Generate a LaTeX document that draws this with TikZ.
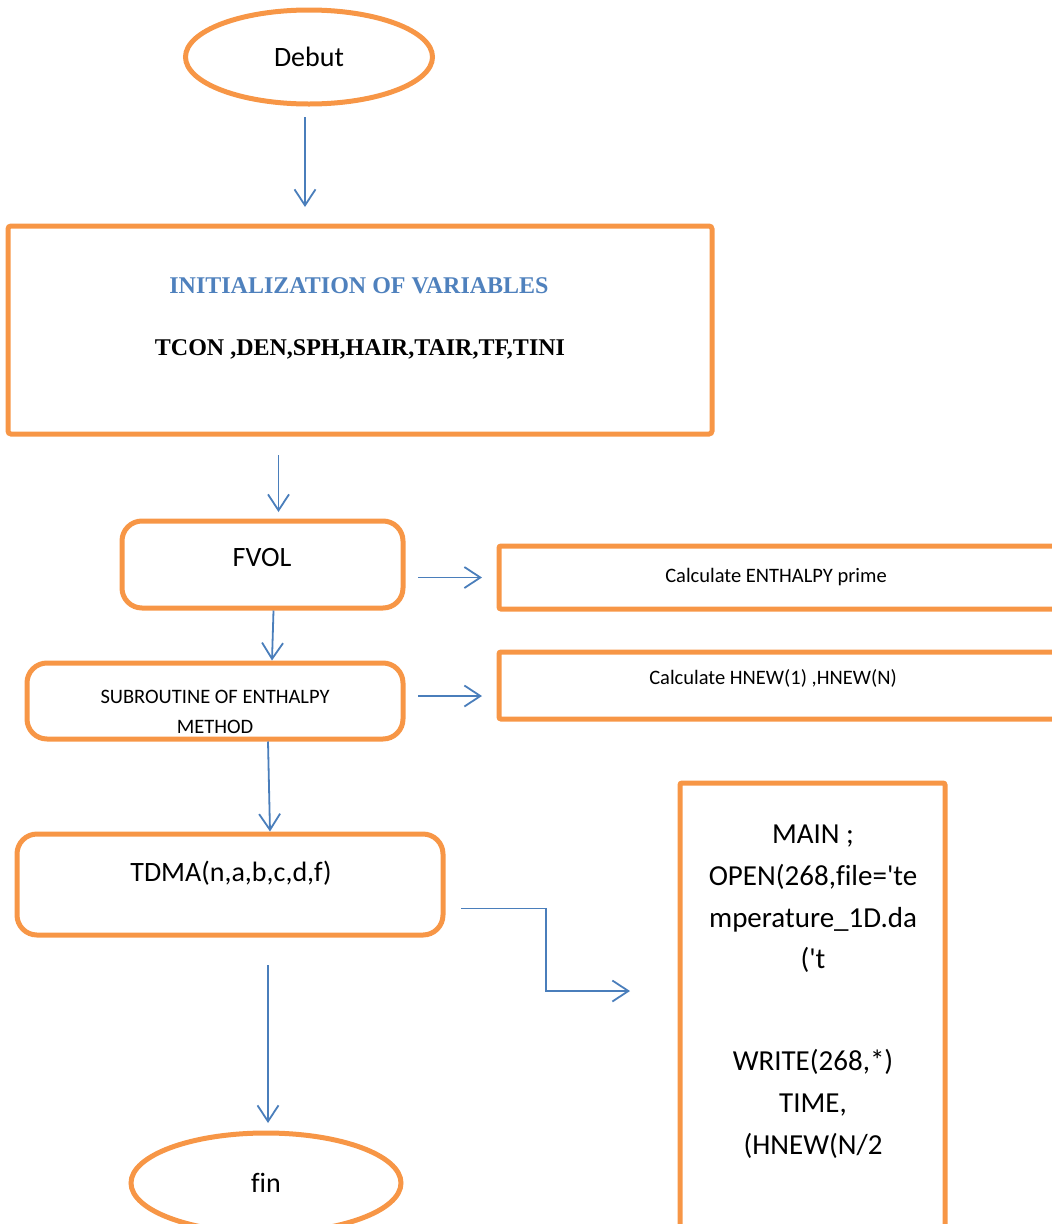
\documentclass[tikz,border=0pt]{standalone}
\usepackage{fontspec}
\setmainfont{Carlito}[Ligatures=NoCommon]
\newfontfamily\calib{Carlito}[Ligatures=NoCommon]
\newfontfamily\tnr{Liberation Serif}
\usetikzlibrary{arrows.meta,shapes.geometric,calc}
\definecolor{orng}{HTML}{F79646}
\definecolor{lblue}{HTML}{4A7EBB}
\definecolor{tblue}{HTML}{4F81BD}
\tikzset{
  obox/.style={draw=orng, line width=5, fill=none, inner sep=0},
  rbox/.style={obox, rectangle, rounded corners=20},
  sbox/.style={obox, rectangle, rounded corners=3},
  ell/.style={obox, ellipse},
  arr/.style={draw=lblue, line width=1.8, -{Straight Barb[length=16, width=21, line width=1.8]}},
  big/.style={font=\calib\fontsize{28}{41.5}\selectfont, inner sep=0, align=center},
  mid/.style={font=\calib\fontsize{20.5}{30}\selectfont, inner sep=0, align=center},
  tb/.style={font=\tnr\bfseries\fontsize{24}{28}\selectfont, inner sep=0},
}
\begin{document}
\begin{tikzpicture}[x=1pt, y=-1pt]
\useasboundingbox (0,0) rectangle (1052,1224);
\clip (0,0) rectangle (1052,1224);
% nodes
\node[ell, minimum width=247, minimum height=94] (debut) at (309,57) {};
\node[big] (debutT) at (309,57) {Debut};

\node[sbox, minimum width=704, minimum height=208] (init) at (360,330) {};
\node[tb, text=tblue] (initT1) at (359,286) {INITIALIZATION OF VARIABLES};
\node[tb] (initT2) at (360,349) {TCON ,DEN,SPH,HAIR,TAIR,TF,TINI};

\node[rbox, minimum width=281, minimum height=87] (fvol) at (262.5,564.5) {};
\node[big] (fvolT) at (262,558) {FVOL};

\node[sbox, rounded corners=2, minimum width=561, minimum height=63] (calc1) at (779.5,577.5) {};
\node[mid] (calc1T) at (776,577) {Calculate ENTHALPY prime};

\node[rbox, minimum width=376, minimum height=76] (sub) at (215,701) {};
\node[mid] (subT) at (215,712) {SUBROUTINE OF ENTHALPY\\METHOD};

\node[sbox, rounded corners=2, minimum width=561, minimum height=67] (calc2) at (779.5,685.5) {};
\node[mid] (calc2T) at (773,678) {Calculate HNEW(1) ,HNEW(N)};

\node[rbox, minimum width=426, minimum height=101] (tdma) at (230,884.5) {};
\node[big] (tdmaT) at (231,873) {TDMA(n,a,b,c,d,f)};

\node[sbox, rounded corners=2, minimum width=265, minimum height=460] (main) at (812.5,1013) {};
\node[big, anchor=north, font=\calib\fontsize{29}{41.7}\selectfont] (mainT) at (813,825) {MAIN ;\\OPEN(268,file='te\\mperature\_1D.da\\('t\\[60pt]WRITE(268,*)\\TIME,\\(HNEW(N/2};

\node[ell, minimum width=270, minimum height=100] (fin) at (266,1183) {};
\node[big] (finT) at (266,1183) {fin};

% connectors
\draw[arr, shorten <=10.5, shorten >=16.5] ([xshift=-4]debut.south) -- ([xshift=-4]debut.south |- init.north);
\draw[arr, shorten <=18.5, shorten >=6.5] ([xshift=16]fvol.north |- init.south) -- ([xshift=16]fvol.north);
\draw[arr, shorten <=12.5, shorten >=14.5] (fvol.east |- calc1.center) -- (calc1.west);
\draw[arr] ([xshift=11]fvol.south) -- ([xshift=57]sub.north);
\draw[arr] ([xshift=53]sub.south) -- ([xshift=40]tdma.north);
\draw[arr, shorten <=12.5, shorten >=14.5] (sub.east |- 0,696) -- (calc2.west |- 0,696);
\draw[arr, shorten <=15.5, shorten >=47.5] ([yshift=-24]tdma.east) -| ($(tdma.east)!0.5!(main.west)+(-15.5,0)$) |- (main.west |- 0,991);
\draw[arr, shorten <=27.5, shorten >=7.5] ([xshift=38]tdma.south) -- ([xshift=2]fin.north);
\end{tikzpicture}
\end{document}
